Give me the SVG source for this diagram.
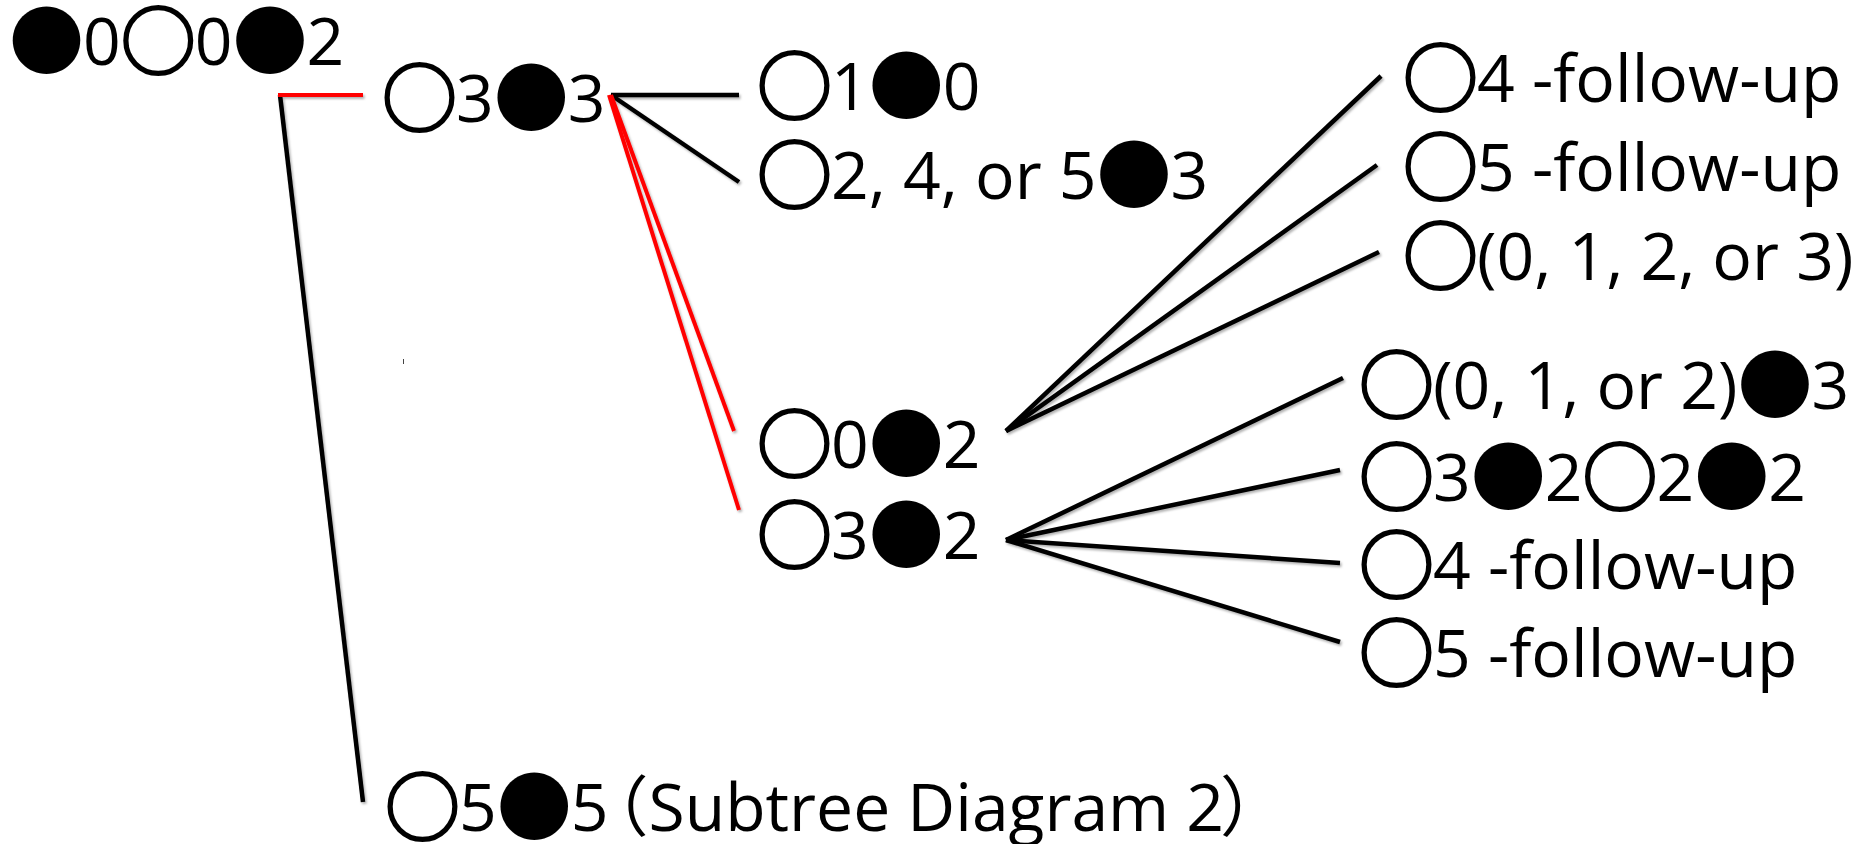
<svg xmlns="http://www.w3.org/2000/svg" width="1864" height="844" viewBox="0 0 1864 844">
  <defs>
    <filter id="soft-shadow" x="-5%" y="-5%" width="110%" height="110%">
      <feDropShadow dx="1.5" dy="2" stdDeviation="1.2" flood-color="#000" flood-opacity="0.3"/>
    </filter>
  </defs>
  <style>
    .t { font-family: "Open Sans", "Noto Sans CJK JP", sans-serif; font-size: 66px; fill: #000; }
    .c { font-family: "Noto Sans CJK JP", sans-serif; font-size: 75px; letter-spacing: -1px; baseline-shift: -4px; }
    .w { stroke: #000; stroke-width: 2.5; }
    .edge { stroke: #000; stroke-width: 4.5; fill: none; stroke-linecap: butt; }
    .edge.hot { stroke: #ff0000; stroke-width: 4; }
  </style>
  <rect width="1864" height="844" fill="#fff"/>

  <!-- connectors -->
  <g id="connectors" filter="url(#soft-shadow)">
    <line class="edge" x1="280" y1="95" x2="363" y2="802"/>
    <line class="edge hot" x1="278" y1="95" x2="363" y2="95"/>
    <line class="edge" x1="611" y1="95" x2="739" y2="95"/>
    <line class="edge" x1="611" y1="95" x2="739" y2="182"/>
    <line class="edge hot" x1="611" y1="95" x2="734" y2="431"/>
    <line class="edge hot" x1="609" y1="95" x2="739" y2="510"/>
    <line class="edge" x1="1006" y1="431" x2="1381" y2="76"/>
    <line class="edge" x1="1006" y1="431" x2="1377" y2="165"/>
    <line class="edge" x1="1006" y1="431" x2="1379" y2="252"/>
    <line class="edge" x1="1006" y1="540" x2="1343" y2="378"/>
    <line class="edge" x1="1006" y1="540" x2="1340" y2="470"/>
    <line class="edge" x1="1006" y1="540" x2="1340" y2="563"/>
    <line class="edge" x1="1006" y1="540" x2="1340" y2="642"/>
  </g>

  <!-- stray tick -->
  <line x1="403.5" y1="359" x2="403.5" y2="364" stroke="#444" stroke-width="1"/>

  <!-- nodes -->
  <g id="root"><text class="t" x="9" y="65"><tspan class="c">●</tspan>0<tspan class="c w">○</tspan>0<tspan class="c">●</tspan>2</text></g>
  <g id="w3b3"><text class="t" x="382" y="122"><tspan class="c w">○</tspan>3<tspan class="c">●</tspan>3</text></g>
  <g id="w1b0"><text class="t" x="757" y="110"><tspan class="c w">○</tspan>1<tspan class="c">●</tspan>0</text></g>
  <g id="w245b3"><text class="t" x="757" y="199"><tspan class="c w">○</tspan>2, 4, or 5<tspan class="c">●</tspan>3</text></g>
  <g id="w0b2"><text class="t" x="757" y="468"><tspan class="c w">○</tspan>0<tspan class="c">●</tspan>2</text></g>
  <g id="w3b2"><text class="t" x="757" y="559"><tspan class="c w">○</tspan>3<tspan class="c">●</tspan>2</text></g>
  <g id="w4-a"><text class="t" x="1403" y="102"><tspan class="c w">○</tspan>4 -follow-up</text></g>
  <g id="w5-a"><text class="t" x="1403" y="191"><tspan class="c w">○</tspan>5 -follow-up</text></g>
  <g id="w0123"><text class="t" x="1403" y="280"><tspan class="c w">○</tspan>(0, 1, 2, or 3)</text></g>
  <g id="w012b3"><text class="t" x="1359" y="409"><tspan class="c w">○</tspan>(0, 1, or 2)<tspan class="c">●</tspan>3</text></g>
  <g id="w3b2w2b2"><text class="t" x="1359" y="501"><tspan class="c w">○</tspan>3<tspan class="c">●</tspan>2<tspan class="c w">○</tspan>2<tspan class="c">●</tspan>2</text></g>
  <g id="w4-b"><text class="t" x="1359" y="589"><tspan class="c w">○</tspan>4 -follow-up</text></g>
  <g id="w5-b"><text class="t" x="1359" y="677"><tspan class="c w">○</tspan>5 -follow-up</text></g>
  <g id="w5b5"><text class="t" x="385" y="831"><tspan class="c w">○</tspan>5<tspan class="c">●</tspan>5<tspan dx="-26">（</tspan>Subtree Diagram 2<tspan dx="-4">）</tspan></text></g>
</svg>
